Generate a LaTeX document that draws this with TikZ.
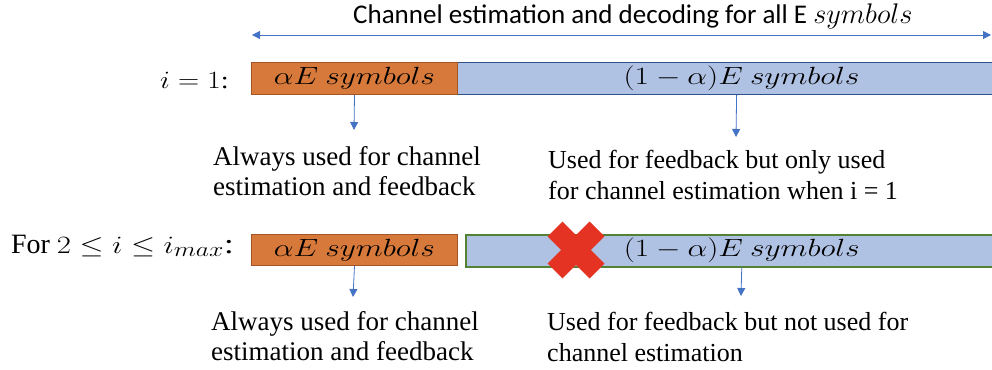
\documentclass[tikz,border=0pt]{standalone}
\usepackage{fontspec}
\usepackage{graphicx}
\setmainfont{Liberation Serif}
\newfontfamily\calibrifont{Carlito}
\usetikzlibrary{arrows.meta}
\definecolor{orfill}{RGB}{215,121,58}
\definecolor{ordraw}{RGB}{165,85,35}
\definecolor{blfill}{RGB}{176,194,228}
\definecolor{bldraw}{RGB}{47,82,143}
\definecolor{grdraw}{RGB}{84,130,53}
\definecolor{arblue}{RGB}{68,114,196}
\definecolor{crossred}{RGB}{229,51,35}
\newcommand\wm[1]{\scalebox{1.26}[1]{$#1$}}
\tikzset{
  orbar/.style={draw=ordraw, line width=1pt, fill=orfill, inner sep=0pt,
    font=\fontsize{23}{26}\selectfont},
  blbarA/.style={draw=bldraw, line width=1.2pt, fill=blfill, inner sep=0pt,
    font=\fontsize{23}{26}\selectfont},
  blbarB/.style={draw=grdraw, line width=1.5pt, fill=blfill, inner sep=0pt,
    font=\fontsize{23}{26}\selectfont},
  arr/.style={draw=arblue, line width=0.8pt, -{Triangle[width=8pt,length=8pt]}},
  dblarr/.style={draw=arblue, line width=0.8pt, {Triangle[width=8pt,length=8pt]}-{Triangle[width=8pt,length=8pt]}},
  desc/.style={anchor=base west, inner sep=0pt, font=\rmfamily\fontsize{27}{30}\selectfont},
  descR/.style={anchor=base west, inner sep=0pt, font=\rmfamily\fontsize{26}{31}\selectfont},
  rowlabel/.style={anchor=base east, inner sep=0pt},
  crossarm/.style={draw=crossred, line width=21pt, line cap=butt}
}
\begin{document}
\begin{tikzpicture}[x=1pt,y=-1pt]
\useasboundingbox (0,0) rectangle (992,369);
\clip (0,0) rectangle (992,369);
% title and top arrow
\node[anchor=base west, inner sep=0pt, font=\calibrifont\fontsize{27}{30}\selectfont] (title) at (353,24)
  {Channel estimation and decoding for all E \scalebox{1.14}{$symbols$}};
\coordinate (tl) at (252,35);
\coordinate (tr) at (991,35);
\draw[dblarr] (tl) -- (tr);
% row 1
\node[rowlabel, font=\fontsize{24}{28}\selectfont] (lab1) at (229,88) {\scalebox{1.18}[1]{$i=1$:}};
\node[blbarA, minimum width=568pt, minimum height=32pt, anchor=north west] (b1) at (457,62) {\wm{(1-\alpha)E\ symbols}};
\node[orbar, minimum width=206pt, minimum height=32pt, anchor=north west] (a1) at (251,62) {\wm{\alpha E\ symbols}};
\coordinate (a1t) at (354,130);
\coordinate (b1t) at (736,137);
\draw[arr] (a1.south) -- (a1t);
\draw[arr] ([xshift=-5pt]b1.south) -- (b1t);
\node[desc] (d1a) at (213,165) {\vtop{\hbox{Always used for channel}\hbox{estimation and feedback}}};
\node[descR] (d1b) at (548,168) {\vtop{\hbox{Used for feedback but only used}\hbox{for channel estimation when i = 1}}};
% row 2
\node[rowlabel, font=\rmfamily\fontsize{28}{32}\selectfont] (lab2) at (234,253) {For \scalebox{1.24}[1]{$2\leq i\leq i_{max}$:}};
\node[blbarB, minimum width=552pt, minimum height=32pt, anchor=north west] (b2) at (465,234) {\wm{(1-\alpha)E\ symbols}};
\node[orbar, minimum width=206pt, minimum height=31pt, anchor=north west] (a2) at (251,234) {\wm{\alpha E\ symbols}};
\coordinate (a2t) at (353,297);
\coordinate (b2t) at (741,296);
\draw[arr] (a2.south) -- (a2t);
\draw[arr] (b2.south) -- (b2t);
\node[desc] (d2a) at (211,330) {\vtop{\hbox{Always used for channel}\hbox{estimation and feedback}}};
\node[descR] (d2b) at (547,330) {\vtop{\hbox{Used for feedback but not used for}\hbox{channel estimation}}};
% red cross
\coordinate (xc) at (576,250);
\draw[crossarm] ([shift={(-21,-21)}]xc) -- ([shift={(21,21)}]xc);
\draw[crossarm] ([shift={(-21,21)}]xc) -- ([shift={(21,-21)}]xc);
\end{tikzpicture}
\end{document}
